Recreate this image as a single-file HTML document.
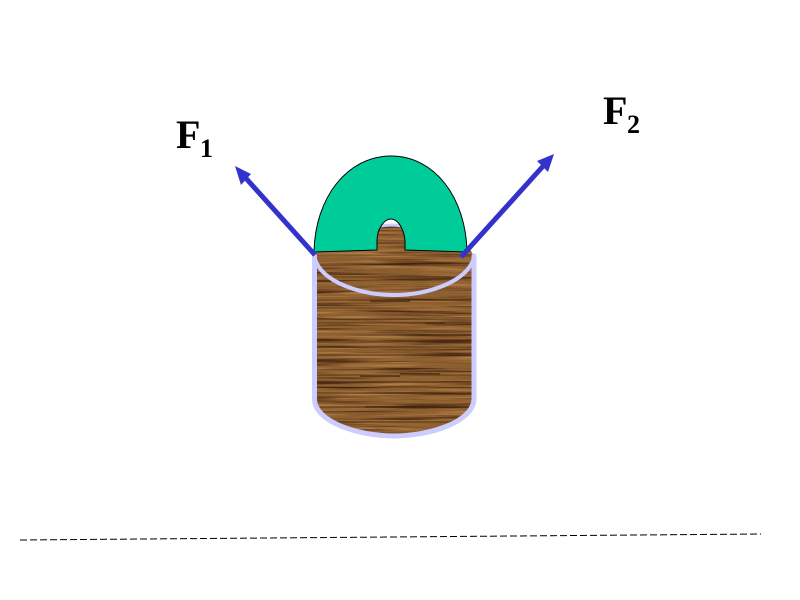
<!DOCTYPE html>
<html>
<head>
<meta charset="utf-8">
<style>
html,body{margin:0;padding:0;background:#fff;width:800px;height:600px;overflow:hidden}
svg{display:block}
text{font-family:"Liberation Serif",serif;font-weight:bold;fill:#000}
</style>
</head>
<body>
<svg width="800" height="600" viewBox="0 0 800 600" xmlns="http://www.w3.org/2000/svg">
<defs>
<filter id="dark" x="0" y="0" width="100%" height="100%" color-interpolation-filters="sRGB">
<feTurbulence type="fractalNoise" baseFrequency="0.008 0.38" numOctaves="3" seed="7"/>
<feColorMatrix type="matrix" values="0 0 0 0 0.27  0 0 0 0 0.15  0 0 0 0 0.06  3.5 0 0 0 -1.75"/>
</filter>
<filter id="light" x="0" y="0" width="100%" height="100%" color-interpolation-filters="sRGB">
<feTurbulence type="fractalNoise" baseFrequency="0.012 0.42" numOctaves="3" seed="23"/>
<feColorMatrix type="matrix" values="0 0 0 0 0.70  0 0 0 0 0.50  0 0 0 0 0.27  0 3 0 0 -1.4"/>
</filter>
<clipPath id="body">
<path d="M314.5 258 L314.5 400 C316 422 358 436 394 436 C430 436 472 422 474 400 L474 258 C464 215 324 215 314.5 258 Z"/>
</clipPath>
</defs>

<path d="M314.5 258 L314.5 400 C316 422 358 436 394 436 C430 436 472 422 474 400 L474 258 C464 215 324 215 314.5 258 Z" fill="#8d5f30"/>
<g clip-path="url(#body)">
<rect x="310" y="220" width="170" height="220" filter="url(#light)"/>
<rect x="310" y="220" width="170" height="220" filter="url(#dark)"/>
<g stroke="#3c220e" fill="none" opacity="0.65">
<path d="M316 265H470M330 277H450M316 300H472M316 323H472M316 342H472M316 347H472M316 355H472M316 375H472M316 382H472M316 393H472M316 407H472M316 422H472" stroke-width="1"/>
<path d="M370 301H410M425 323H445M400 374H440M360 376H400M365 407H415" stroke-width="2"/>
</g>
</g>

<path d="M314.5 256 L314.5 400 C316 422 358 436 394 436 C430 436 472 422 474 400 L474 256" fill="none" stroke="#ccccff" stroke-width="5" stroke-linecap="round"/>
<path d="M314.5 258 C322 283 362 295 394 295 C426 295 466 283 474 258" fill="none" stroke="#ccccff" stroke-width="4"/>
<path d="M372 228 Q391 222 410 228" fill="none" stroke="#ccccff" stroke-width="3"/>

<path d="M314 252 C315 198 347 156 391 156 C435 156 466 198 467 252 L405 250 L405 241 C404 229 398 219 391 219 C384 219 377 229 377 241 L377 250 Z" fill="#00cc99" stroke="#000" stroke-width="1"/>

<line x1="315" y1="255" x2="243" y2="175" stroke="#3333cc" stroke-width="5"/>
<polygon points="235,166 251,174 241,185" fill="#3333cc"/>
<line x1="461" y1="257" x2="545" y2="164" stroke="#3333cc" stroke-width="5"/>
<polygon points="554,154 548,172 537,161" fill="#3333cc"/>

<text x="176" y="148" font-size="40">F</text>
<text x="200" y="157" font-size="26">1</text>
<text x="603" y="124" font-size="40">F</text>
<text x="627" y="133" font-size="26">2</text>

<line x1="20" y1="540" x2="761" y2="534" stroke="#000" stroke-width="1" stroke-dasharray="7 3"/>
</svg>
</body>
</html>
